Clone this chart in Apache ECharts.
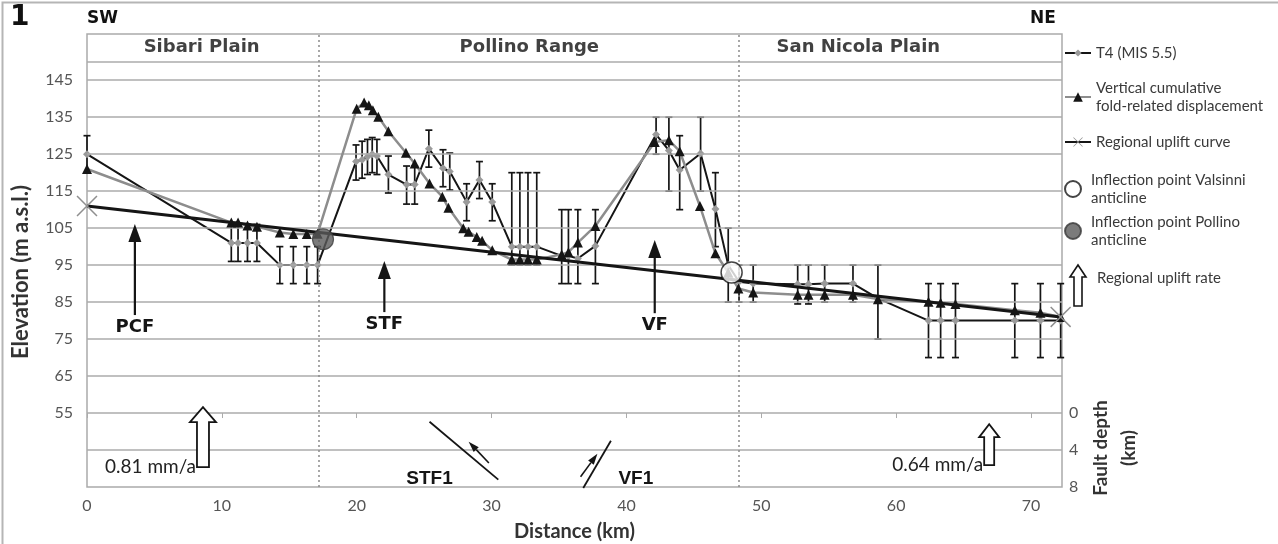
<!DOCTYPE html>
<html><head><meta charset="utf-8">
<script src="https://cdn.jsdelivr.net/npm/echarts@6/dist/echarts.min.js"></script>
<style>html,body{margin:0;padding:0;background:#fff}#c{width:1278px;height:544px}</style>
</head><body><div id="c"></div>
<script>
// ---------------- data ----------------
// T4 (MIS 5.5) terrace elevation with error bars
const t4X    = [0, 10.7, 11.2, 11.9, 12.6, 14.3, 15.3, 16.3, 17.1, 19.95, 20.4, 20.8, 21.15, 21.5, 22.35, 23.7, 24.3, 25.35, 26.4, 26.9, 28.15, 29.1, 30.05, 31.5, 32.1, 32.7, 33.35, 35.2, 35.7, 36.4, 37.7, 42.2, 43.15, 43.95, 45.5, 46.6, 47.55, 48.35, 49.4, 52.7, 53.5, 54.7, 56.8, 58.65, 62.4, 63.3, 64.4, 68.8, 70.7, 72.2];
const t4Y    = [125, 101, 101, 101, 101, 95, 95, 95, 95, 123, 123.5, 124.3, 125, 124.5, 119.5, 116.8, 116.8, 126.5, 121.2, 120.3, 112.1, 118, 112.1, 100, 100, 100, 100, 97.5, 97.5, 96.8, 100.2, 130.3, 126, 120.7, 125.2, 110.2, 95, 90.5, 90, 89.8, 89.8, 90, 90, 86, 80, 80, 80, 80, 80, 80];
const t4Low  = [120, 96, 96, 96, 96, 90, 90, 90, 90, 118, 118.5, 119.5, 120, 119.5, 114.5, 111.5, 111.5, 121.5, 116.2, 115.3, 107, 113, 107, 95, 95, 95, 95, 90, 90, 90, 90, 125, 115, 110, 115, 100, 85, 85, 85, 84.5, 84.5, 85, 85, 75, 70, 70, 70, 70, 70, 70];
const t4High = [130, 106, 106, 106, 106, 100, 100, 100, 100, 127.5, 128.5, 129, 129.5, 129, 124.5, 121.8, 121.8, 131.5, 126.2, 125.3, 117, 123, 117, 120, 120, 120, 120, 110, 110, 110, 110, 135, 135, 130, 135, 120, 105, 95, 95, 95, 95, 95, 95, 95, 90, 90, 90, 90, 90, 90];

// Vertical cumulative fold-related displacement
const dispX = [0, 10.7, 11.2, 11.9, 12.6, 14.3, 15.3, 16.3, 17.1, 20.0, 20.55, 20.9, 21.2, 21.6, 22.35, 23.65, 24.3, 25.4, 26.35, 26.8, 27.9, 28.3, 28.9, 29.3, 30.05, 31.5, 32.1, 32.7, 33.35, 35.2, 35.7, 36.4, 37.7, 42.1, 43.15, 43.95, 45.45, 46.6, 47.55, 48.3, 49.4, 52.7, 53.5, 54.7, 56.8, 58.65, 62.4, 63.3, 64.4, 68.8, 70.7, 72.2];
const dispY = [121, 106.5, 106.5, 105.7, 105.4, 103.8, 103.4, 103.4, 103.5, 137.3, 139, 138.2, 136.9, 135.1, 131.2, 125.4, 122.5, 117.1, 113.5, 110.5, 105, 104, 102.6, 101.6, 99, 96.5, 96.5, 96.5, 96.5, 97.9, 98.5, 101.1, 105.6, 128.3, 128.8, 125.8, 111, 98.2, 93, 88.7, 87.6, 87, 87, 87, 87, 85.8, 85.1, 84.8, 84.5, 82.8, 82.1, 81];

// Regional uplift curve
const regionalX = [0, 72.2];
const regionalY = [111, 81];

// Inflection points
const valsinniPoint = [47.8, 93];
const pollinoPoint  = [17.5, 102];

// Axis ticks
const elevationTicks = [55, 65, 75, 85, 95, 105, 115, 125, 135, 145];
const gridLevels     = [45, 55, 65, 75, 85, 95, 105, 115, 125, 135, 145, 150];
const depthTicks     = [0, 4, 8];
const distanceTicks  = [0, 10, 20, 30, 40, 50, 60, 70];

// Regions
const regionBounds  = [17.2, 48.3];
const regionNames   = ['Sibari Plain', 'Pollino Range', 'San Nicola Plain'];
const regionLabelX  = [8.5, 32.8, 57.2];
const regionLabelY  = 153.8;

// Fault arrows (surface traces): distance, tail elevation, tip elevation
const faultNames = ['PCF', 'STF', 'VF'];
const faultX     = [3.55, 22.05, 42.1];
const faultTail  = [81.5, 82.3, 82.0];
const faultTip   = [106.1, 96.1, 101.8];

// Regional uplift rate (hollow arrows): distance, base elevation, tip elevation
const upliftLabels = ['0.81 mm/a', '0.64 mm/a'];
const upliftX      = [8.6, 66.9];
const upliftBase   = [40.4, 40.9];
const upliftTip    = [56.6, 52.0];

// Fault planes at depth (distance, depth km)
const faultPlaneNames = ['STF1', 'VF1'];
const planeStart = [[25.4, 0.94], [36.8, 8.1]];
const planeEnd   = [[30.5, 7.2], [38.85, 3.0]];
const slipStart  = [[29.8, 5.4], [36.6, 6.9]];
const slipEnd    = [[28.3, 3.1], [37.85, 4.4]];
const planeLabel = [[25.4, 7.1], [40.7, 7.1]];

// ---------------- chart ----------------
const BLACK = '#151515', GREY = '#8d8d8d', GRID = '#ababab';
const tickFont = 'Lato';

const chart = echarts.init(document.getElementById('c'), null, {renderer: 'canvas', width: 1278, height: 544});

const t4Data = t4X.map((x, i) => [x, t4Y[i]]);
const errData = t4X.map((x, i) => [x, t4Low[i], t4High[i]]);
const dispData = dispX.map((x, i) => [x, dispY[i]]);
const regData = regionalX.map((x, i) => [x, regionalY[i]]);

const X_PATH = 'path://M1,0 L10,9 L19,0 L20,1 L11,10 L20,19 L19,20 L10,11 L1,20 L0,19 L9,10 L0,1 Z';

function hollowArrow(cx, yBase, yTip, shaftW, headW, headH) {
  return [[cx - shaftW / 2, yBase], [cx - shaftW / 2, yTip + headH], [cx - headW / 2, yTip + headH], [cx, yTip],
          [cx + headW / 2, yTip + headH], [cx + shaftW / 2, yTip + headH], [cx + shaftW / 2, yBase]];
}
const upliftArrowSize = [{shaft: 12, head: 26, headH: 15}, {shaft: 10, head: 20, headH: 13}];

function headAt(tip, from, len, halfW) {
  const dx = tip[0] - from[0], dy = tip[1] - from[1];
  const L = Math.sqrt(dx * dx + dy * dy); const ux = dx / L, uy = dy / L;
  const bx = tip[0] - ux * len, by = tip[1] - uy * len;
  return {pts: [[tip[0], tip[1]], [bx - uy * halfW, by + ux * halfW], [bx + uy * halfW, by - ux * halfW]], base: [bx, by]};
}

const legendText = {fontFamily: tickFont, fontSize: 15, color: '#3a3a3a', lineHeight: 18};
const legendText2 = Object.assign({}, legendText, {padding: [18, 0, 0, 0]});

const option = {
  animation: false,
  backgroundColor: '#fff',
  grid: {left: 87, right: 216, top: 34, bottom: 57, show: true, borderColor: GRID, borderWidth: 1.5, backgroundColor: 'transparent', containLabel: false, outerBoundsMode: 'none'},
  xAxis: {
    type: 'value', min: 0, max: 72.3, interval: 10,
    axisLine: {show: false},
    axisTick: {show: true, length: 5, lineStyle: {color: GRID}, customValues: distanceTicks},
    splitLine: {show: false},
    axisLabel: {margin: 11, color: '#555', fontFamily: tickFont, fontSize: 16,
      customValues: distanceTicks,
      formatter: v => distanceTicks.includes(v) ? String(v) : ''},
    name: 'Distance (km)', nameLocation: 'middle', nameGap: 35,
    nameTextStyle: {fontFamily: tickFont, fontWeight: 'bold', fontSize: 20, color: '#333'}
  },
  yAxis: [{
    type: 'value', min: 35, max: 157.5, interval: 10,
    axisLine: {show: false}, axisTick: {show: false}, splitLine: {show: false},
    axisLabel: {margin: 14, color: '#555', fontFamily: tickFont, fontSize: 16,
      formatter: v => elevationTicks.includes(v) ? String(v) : ''}
  }, {
    type: 'value', min: -41, max: 8, interval: 1, inverse: true, position: 'right',
    axisLine: {show: false}, axisTick: {show: false}, splitLine: {show: false},
    axisLabel: {margin: 7, color: '#555', fontFamily: tickFont, fontSize: 16,
      formatter: v => depthTicks.includes(v) ? String(v) : ''}
  }],
  legend: [
    {data: ['T4 (MIS 5.5)'], left: 1064, top: 44, padding: 0, itemWidth: 26, itemHeight: 9, itemGap: 0, textStyle: legendText, selectedMode: false},
    {data: ['Vertical cumulative\nfold-related displacement'], left: 1064, top: 70, padding: 0, itemWidth: 26, itemHeight: 12, textStyle: legendText2, selectedMode: false},
    {data: ['Regional uplift curve'], left: 1064, top: 133, padding: 0, itemWidth: 26, itemHeight: 12, textStyle: legendText, selectedMode: false},
    {data: ['Inflection point Valsinni\nanticline'], left: 1064, top: 162, padding: 0, itemWidth: 26, itemHeight: 16, textStyle: legendText2, selectedMode: false},
    {data: ['Inflection point Pollino\nanticline'], left: 1064, top: 204, padding: 0, itemWidth: 26, itemHeight: 16, textStyle: legendText2, selectedMode: false}
  ],
  graphic: [
    {type: 'rect', left: 0, top: 0, silent: true, shape: {x: 0, y: 0, width: 1277, height: 543}, style: {fill: 'none', stroke: '#b5b5b5', lineWidth: 2}},
    {type: 'text', left: 10, top: 4, style: {text: '1', fontFamily: 'DejaVu Sans', fontWeight: 'bold', fontSize: 28, fill: '#111'}},
    {type: 'text', left: 87, top: 10, style: {text: 'SW', fontFamily: 'DejaVu Sans', fontWeight: 'bold', fontSize: 17, fill: '#111'}},
    {type: 'text', left: 1030, top: 10, style: {text: 'NE', fontFamily: 'DejaVu Sans', fontWeight: 'bold', fontSize: 17, fill: '#111'}},
    {type: 'text', x: 21, y: 272, rotation: Math.PI / 2, style: {text: 'Elevation (m a.s.l.)', fontFamily: 'Lato', fontWeight: 'bold', fontSize: 22, fill: '#333', align: 'center', verticalAlign: 'middle'}},
    {type: 'text', x: 1115, y: 448, rotation: Math.PI / 2, style: {text: 'Fault depth\n(km)', fontFamily: 'Lato', fontWeight: 'bold', fontSize: 19, fill: '#333', align: 'center', verticalAlign: 'middle', lineHeight: 28}},
    {type: 'polygon', shape: {points: hollowArrow(1078, 306, 265, 8, 16, 12)}, style: {fill: '#fff', stroke: BLACK, lineWidth: 1.6}},
    {type: 'text', x: 1097, y: 278, style: {text: 'Regional uplift rate', fontFamily: 'Lato', fontSize: 15, fill: '#3a3a3a', verticalAlign: 'middle'}}
  ],
  series: [
    { // horizontal grid lines
      type: 'line', data: [], silent: true, z: 1,
      markLine: {silent: true, symbol: 'none', label: {show: false}, animation: false,
        lineStyle: {color: GRID, width: 1.5, type: 'solid'},
        data: gridLevels.map(v => ({yAxis: v}))}
    },
    { // region boundaries
      type: 'line', data: [], silent: true, z: 1,
      markLine: {silent: true, symbol: 'none', label: {show: false}, animation: false,
        lineStyle: {color: '#8a8a8a', width: 1.5, type: [2, 3]},
        data: regionBounds.map(v => ({xAxis: v}))}
    },
    { // region labels
      type: 'scatter', silent: true, symbolSize: 0, z: 5,
      data: regionLabelX.map((x, i) => [x, regionLabelY, regionNames[i]]),
      label: {show: true, position: 'inside', formatter: p => p.data[2], fontFamily: 'DejaVu Sans', fontWeight: 'bold', fontSize: 18, color: '#111'}
    },
    { // error bars
      type: 'custom', silent: true, z: 3, data: errData, clip: false,
      renderItem: (params, api) => {
        const x = api.value(0);
        const lo = api.coord([x, api.value(1)]), hi = api.coord([x, api.value(2)]);
        const cw = 3.5, st = {stroke: BLACK, lineWidth: 1.7};
        return {type: 'group', children: [
          {type: 'line', shape: {x1: lo[0], y1: lo[1], x2: hi[0], y2: hi[1]}, style: st},
          {type: 'line', shape: {x1: lo[0] - cw, y1: lo[1], x2: lo[0] + cw, y2: lo[1]}, style: st},
          {type: 'line', shape: {x1: hi[0] - cw, y1: hi[1], x2: hi[0] + cw, y2: hi[1]}, style: st}
        ]};
      }
    },
    {
      name: 'T4 (MIS 5.5)', type: 'line', data: t4Data, z: 4,
      symbol: 'diamond', symbolSize: 8,
      lineStyle: {color: BLACK, width: 2}, itemStyle: {color: '#9a9a9a'}
    },
    {
      name: 'Vertical cumulative\nfold-related displacement', type: 'line', data: dispData, z: 5,
      symbol: 'triangle', symbolSize: 10,
      lineStyle: {color: GREY, width: 2.5}, itemStyle: {color: BLACK}
    },
    {
      name: 'Regional uplift curve', type: 'line', data: regData, z: 6,
      symbol: X_PATH, symbolSize: 21,
      lineStyle: {color: BLACK, width: 3}, itemStyle: {color: '#8f8f8f'}
    },
    {
      name: 'Inflection point Valsinni\nanticline', type: 'scatter', data: [valsinniPoint], z: 7,
      symbol: 'circle', symbolSize: 21,
      itemStyle: {color: '#fff', borderColor: BLACK, borderWidth: 1.5}
    },
    {
      name: 'Inflection point Pollino\nanticline', type: 'scatter', data: [pollinoPoint], z: 7,
      symbol: 'circle', symbolSize: 21,
      itemStyle: {color: '#5a5a5a', borderColor: '#3a3a3a', borderWidth: 1.2}
    },
    { // fault arrows PCF / STF / VF
      type: 'custom', silent: true, z: 8, clip: false,
      data: faultX.map((x, i) => [x, faultTail[i], faultTip[i]]),
      renderItem: (params, api) => {
        const x = api.value(0);
        const tail = api.coord([x, api.value(1)]), tip = api.coord([x, api.value(2)]);
        const hw = 6.5, hh = 18;
        return {type: 'group', children: [
          {type: 'line', shape: {x1: tail[0], y1: tail[1], x2: tip[0], y2: tip[1] + hh - 2}, style: {stroke: BLACK, lineWidth: 2.2}},
          {type: 'polygon', shape: {points: [[tip[0], tip[1]], [tip[0] - hw, tip[1] + hh], [tip[0] + hw, tip[1] + hh]]}, style: {fill: BLACK}},
          {type: 'text', x: tail[0], y: tail[1] + 3, style: {text: faultNames[params.dataIndex], align: 'center', verticalAlign: 'top', fontFamily: 'DejaVu Sans', fontWeight: 'bold', fontSize: 18, fill: BLACK}}
        ]};
      }
    },
    { // regional uplift rate hollow arrows
      type: 'custom', silent: true, z: 8, clip: false,
      data: upliftX.map((x, i) => [x, upliftBase[i], upliftTip[i]]),
      renderItem: (params, api) => {
        const x = api.value(0), s = upliftArrowSize[params.dataIndex];
        const base = api.coord([x, api.value(1)]), tip = api.coord([x, api.value(2)]);
        return {type: 'group', children: [
          {type: 'polygon', shape: {points: hollowArrow(base[0], base[1], tip[1], s.shaft, s.head, s.headH)}, style: {fill: '#fff', stroke: BLACK, lineWidth: 1.8}},
          {type: 'text', x: base[0] - s.shaft / 2 - 1, y: base[1], style: {text: upliftLabels[params.dataIndex], align: 'right', verticalAlign: 'middle', fontFamily: 'Lato', fontSize: 19, fill: '#222'}}
        ]};
      }
    },
    { // fault planes at depth
      type: 'custom', silent: true, z: 8, clip: false, yAxisIndex: 1,
      data: faultPlaneNames.map((n, i) => [planeStart[i][0], planeStart[i][1]]),
      renderItem: (params, api) => {
        const i = params.dataIndex;
        const a = api.coord(planeStart[i]), b = api.coord(planeEnd[i]);
        const s0 = api.coord(slipStart[i]), s1 = api.coord(slipEnd[i]);
        const lab = api.coord(planeLabel[i]);
        const h = headAt(s1, s0, 11, 3.5);
        return {type: 'group', children: [
          {type: 'line', shape: {x1: a[0], y1: a[1], x2: b[0], y2: b[1]}, style: {stroke: BLACK, lineWidth: 1.8}},
          {type: 'line', shape: {x1: s0[0], y1: s0[1], x2: h.base[0], y2: h.base[1]}, style: {stroke: BLACK, lineWidth: 1.6}},
          {type: 'polygon', shape: {points: h.pts}, style: {fill: BLACK}},
          {type: 'text', x: lab[0], y: lab[1], style: {text: faultPlaneNames[i], align: 'center', verticalAlign: 'middle', fontFamily: 'Liberation Sans', fontWeight: 'bold', fontSize: 19, fill: BLACK}}
        ]};
      }
    }
  ]
};
chart.setOption(option);
</script></body></html>
